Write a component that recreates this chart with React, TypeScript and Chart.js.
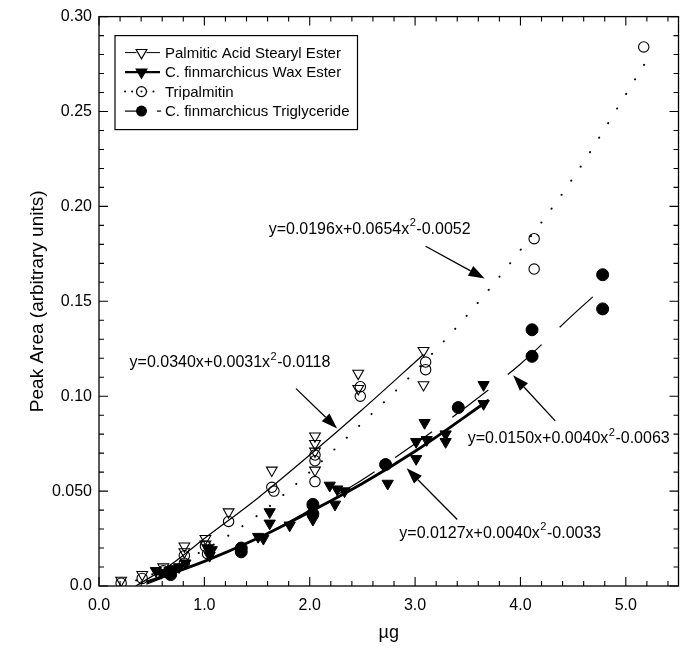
import React, { useEffect, useRef } from 'react';
import { Chart, registerables } from 'chart.js';

Chart.register(...registerables);

// ---------- axes ----------
const X_MIN = 0;
const X_MAX = 5.5;
const Y_MIN = 0;
const Y_MAX = 0.3;
const X_MINOR_STEP = 0.2;
const Y_MINOR_STEP = 0.01;
const xTickValues = [0, 1, 2, 3, 4, 5];
const xTickLabels = ['0.0', '1.0', '2.0', '3.0', '4.0', '5.0'];
const yTickValues = [0, 0.05, 0.1, 0.15, 0.2, 0.25, 0.3];
const yTickLabels = ['0.0', '0.050', '0.10', '0.15', '0.20', '0.25', '0.30'];
const xTitle = 'µg';
const yTitle = 'Peak Area (arbitrary units)';

// ---------- series (x = µg, y = peak area) ----------
const palmiticEster: [number, number][] = [
  [0.21, 0.003], [0.41, 0.006], [0.61, 0.010], [0.81, 0.021], [0.81, 0.018],
  [1.01, 0.025], [1.01, 0.022], [1.23, 0.039], [1.64, 0.061],
  [2.05, 0.079], [2.05, 0.075], [2.05, 0.071], [2.05, 0.061],
  [2.46, 0.112], [2.46, 0.104], [3.08, 0.124], [3.08, 0.106],
];
const waxEster: [number, number][] = [
  [0.54, 0.008], [0.59, 0.007], [0.67, 0.008], [0.71, 0.009], [0.76, 0.010], [0.82, 0.012],
  [1.03, 0.020], [1.07, 0.019], [1.05, 0.016],
  [1.51, 0.026], [1.56, 0.025], [1.62, 0.039], [1.62, 0.033], [1.81, 0.032],
  [2.03, 0.040], [2.03, 0.035], [2.19, 0.053], [2.26, 0.051], [2.33, 0.050], [2.24, 0.043],
  [2.74, 0.054], [3.01, 0.067], [3.01, 0.076], [3.09, 0.086], [3.11, 0.077],
  [3.29, 0.080], [3.29, 0.076], [3.65, 0.106], [3.65, 0.096],
];
const tripalmitin: [number, number][] = [
  [0.21, 0.0015], [0.41, 0.004], [0.61, 0.008], [0.81, 0.016], [0.81, 0.012],
  [1.01, 0.021], [1.03, 0.017], [1.23, 0.034], [1.64, 0.052], [1.66, 0.050],
  [2.05, 0.069], [2.05, 0.066], [2.05, 0.055], [2.48, 0.105], [2.48, 0.100],
  [3.10, 0.118], [3.10, 0.114], [4.13, 0.183], [4.13, 0.167], [5.17, 0.284],
];
const triglyceride: [number, number][] = [
  [0.68, 0.006], [1.35, 0.020], [1.35, 0.018], [2.03, 0.043], [2.03, 0.038],
  [2.72, 0.064], [3.41, 0.094], [4.11, 0.135], [4.11, 0.121], [4.78, 0.164], [4.78, 0.146],
];

// fitted curves
const palmiticFit: [number, number][] = [
  [0.35, 0.0], [0.7, 0.012], [1.0, 0.025], [1.5, 0.046], [2.0, 0.069], [2.5, 0.093], [3.08, 0.122],
];
const waxFit: [number, number][] = [
  [0.45, 0.002], [1.0, 0.013], [1.5, 0.025], [2.0, 0.039], [2.5, 0.054], [3.0, 0.071], [3.7, 0.098],
];
const tripalmitinFit: [number, number][] = [
  [0.2, 0.0], [0.5, 0.006], [1.0, 0.019], [1.5, 0.037], [2.0, 0.060], [2.5, 0.086],
  [3.0, 0.113], [3.5, 0.143], [4.0, 0.177], [4.5, 0.215], [5.2, 0.277],
];
const triglycerideFit: [number, number][] = [
  [0.45, 0.001], [1.0, 0.013], [1.5, 0.025], [2.0, 0.040], [2.5, 0.056], [3.0, 0.075],
  [3.5, 0.095], [4.0, 0.117], [4.5, 0.143], [4.8, 0.158],
];

const seriesNames = [
  'Palmitic Acid Stearyl Ester',
  'C. finmarchicus Wax Ester',
  'Tripalmitin',
  'C. finmarchicus Triglyceride',
];

// equation labels: [base, superscript, tail], anchor (data units)
const equationTexts: [string, string, string][] = [
  ['y=0.0196x+0.0654x', '2', '-0.0052'],
  ['y=0.0340x+0.0031x', '2', '-0.0118'],
  ['y=0.0150x+0.0040x', '2', '-0.0063'],
  ['y=0.0127x+0.0040x', '2', '-0.0033'],
];
const equationAnchors: [number, number][] = [
  [1.61, 0.188], [0.29, 0.1175], [3.5, 0.0776], [2.85, 0.0278],
];
// arrows in data units
const arrowTails: [number, number][] = [[3.10, 0.179], [1.87, 0.104], [4.33, 0.087], [3.40, 0.035]];
const arrowHeads: [number, number][] = [[3.66, 0.162], [2.26, 0.083], [3.93, 0.111], [2.92, 0.062]];

const FONT = '"Liberation Sans", Arial, Helvetica, sans-serif';
const EQ_SIZE = 16;
const LEGEND_SIZE = 15;

const toXY = (arr: [number, number][]) => arr.map(([x, y]) => ({ x, y }));

function drawMarker(ctx: CanvasRenderingContext2D, kind: string, x: number, y: number) {
  ctx.save();
  ctx.strokeStyle = '#000';
  ctx.fillStyle = '#000';
  ctx.lineWidth = 1.2;
  if (kind === 'openTri' || kind === 'filledTri') {
    const r = 6.2;
    ctx.beginPath();
    ctx.moveTo(x - r * 0.866, y - r * 0.5);
    ctx.lineTo(x + r * 0.866, y - r * 0.5);
    ctx.lineTo(x, y + r);
    ctx.closePath();
    if (kind === 'filledTri') ctx.fill();
    ctx.stroke();
  } else if (kind === 'openCircle') {
    ctx.beginPath();
    ctx.arc(x, y, 5, 0, Math.PI * 2);
    ctx.stroke();
    ctx.beginPath();
    ctx.arc(x, y, 1, 0, Math.PI * 2);
    ctx.fill();
  } else {
    ctx.beginPath();
    ctx.arc(x, y, 5.5, 0, Math.PI * 2);
    ctx.fill();
  }
  ctx.restore();
}

const frameTicksPlugin = {
  id: 'frameTicks',
  afterDraw(chart: any) {
    const { ctx, chartArea: a } = chart;
    const xs = chart.scales.x;
    const ys = chart.scales.y;
    ctx.save();
    ctx.strokeStyle = '#000';
    ctx.lineWidth = 1.3;
    ctx.strokeRect(a.left, a.top, a.right - a.left, a.bottom - a.top);
    ctx.lineWidth = 1.1;
    ctx.beginPath();
    const nx = Math.round((X_MAX - X_MIN) / X_MINOR_STEP);
    for (let i = 0; i <= nx; i++) {
      const v = X_MIN + i * X_MINOR_STEP;
      const major = Math.abs(v - Math.round(v)) < 1e-6;
      const px = xs.getPixelForValue(v);
      const len = major ? 9 : 5;
      ctx.moveTo(px, a.bottom);
      ctx.lineTo(px, a.bottom - len);
      ctx.moveTo(px, a.top);
      ctx.lineTo(px, a.top + len);
    }
    const ny = Math.round((Y_MAX - Y_MIN) / Y_MINOR_STEP);
    for (let i = 0; i <= ny; i++) {
      const v = Y_MIN + i * Y_MINOR_STEP;
      const major = i % 5 === 0;
      const py = ys.getPixelForValue(v);
      const len = major ? 9 : 5;
      ctx.moveTo(a.left, py);
      ctx.lineTo(a.left + len, py);
      ctx.moveTo(a.right, py);
      ctx.lineTo(a.right - len, py);
    }
    ctx.stroke();
    ctx.restore();
  },
};

const annotationPlugin = {
  id: 'equations',
  afterDraw(chart: any) {
    const { ctx } = chart;
    const xs = chart.scales.x;
    const ys = chart.scales.y;
    ctx.save();
    arrowTails.forEach((t, i) => {
      const h = arrowHeads[i];
      const x1 = xs.getPixelForValue(t[0]);
      const y1 = ys.getPixelForValue(t[1]);
      const x2 = xs.getPixelForValue(h[0]);
      const y2 = ys.getPixelForValue(h[1]);
      const ang = Math.atan2(y2 - y1, x2 - x1);
      const hl = 16;
      const hw = 5.5;
      const bx = x2 - hl * Math.cos(ang);
      const by = y2 - hl * Math.sin(ang);
      ctx.strokeStyle = '#000';
      ctx.lineWidth = 1.3;
      ctx.beginPath();
      ctx.moveTo(x1, y1);
      ctx.lineTo(bx, by);
      ctx.stroke();
      ctx.fillStyle = '#000';
      ctx.beginPath();
      ctx.moveTo(x2, y2);
      ctx.lineTo(bx + hw * Math.sin(ang), by - hw * Math.cos(ang));
      ctx.lineTo(bx - hw * Math.sin(ang), by + hw * Math.cos(ang));
      ctx.closePath();
      ctx.fill();
    });
    ctx.fillStyle = '#000';
    ctx.textBaseline = 'middle';
    equationTexts.forEach((parts, i) => {
      const [ax, ay] = equationAnchors[i];
      let x = xs.getPixelForValue(ax);
      const y = ys.getPixelForValue(ay);
      ctx.textAlign = 'left';
      ctx.font = `${EQ_SIZE}px ${FONT}`;
      ctx.fillText(parts[0], x, y);
      x += ctx.measureText(parts[0]).width;
      ctx.font = `${Math.round(EQ_SIZE * 0.68)}px ${FONT}`;
      ctx.fillText(parts[1], x + 0.5, y - 6);
      x += ctx.measureText(parts[1]).width + 1;
      ctx.font = `${EQ_SIZE}px ${FONT}`;
      ctx.fillText(parts[2], x, y);
    });
    ctx.restore();
  },
};

const legendPlugin = {
  id: 'boxLegend',
  afterDraw(chart: any) {
    const { ctx, chartArea: a } = chart;
    const left = a.left + 16;
    const top = a.top + 19;
    const rowH = 19.5;
    ctx.save();
    ctx.font = `${LEGEND_SIZE}px ${FONT}`;
    const textX = left + 50;
    const maxW = Math.max(...seriesNames.map((s) => ctx.measureText(s).width));
    const w = textX - left + maxW + 8;
    const h = rowH * 4 + 16;
    ctx.fillStyle = '#fff';
    ctx.fillRect(left, top, w, h);
    ctx.strokeStyle = '#000';
    ctx.lineWidth = 1.2;
    ctx.strokeRect(left, top, w, h);
    const kinds = ['openTri', 'filledTri', 'openCircle', 'filledCircle'];
    kinds.forEach((k, i) => {
      const y = top + 17 + i * rowH;
      const x0 = left + 10;
      const x1 = left + 45;
      const mx = (x0 + x1) / 2 - 1;
      ctx.strokeStyle = '#000';
      ctx.setLineDash([]);
      if (k === 'openTri') {
        ctx.lineWidth = 1;
        ctx.beginPath(); ctx.moveTo(x0, y); ctx.lineTo(x1, y); ctx.stroke();
      } else if (k === 'filledTri') {
        ctx.lineWidth = 2.4;
        ctx.beginPath(); ctx.moveTo(x0, y); ctx.lineTo(x1, y); ctx.stroke();
      } else if (k === 'openCircle') {
        ctx.lineWidth = 2;
        ctx.lineCap = 'round';
        ctx.setLineDash([0.1, 7]);
        ctx.beginPath(); ctx.moveTo(x0, y); ctx.lineTo(x1, y); ctx.stroke();
        ctx.setLineDash([]);
        ctx.lineCap = 'butt';
      } else {
        ctx.lineWidth = 1.2;
        ctx.beginPath(); ctx.moveTo(x0, y); ctx.lineTo(mx, y); ctx.stroke();
        ctx.beginPath(); ctx.moveTo(x1 - 3, y); ctx.lineTo(x1 + 1, y); ctx.stroke();
      }
      if (k === 'openCircle' || k === 'openTri') {
        ctx.fillStyle = '#fff';
        ctx.beginPath(); ctx.arc(mx, y, 5, 0, Math.PI * 2); ctx.fill();
      }
      drawMarker(ctx, k, mx, y);
      ctx.fillStyle = '#000';
      ctx.textBaseline = 'middle';
      ctx.textAlign = 'left';
      ctx.font = `${LEGEND_SIZE}px ${FONT}`;
      ctx.fillText(seriesNames[i], textX, y + 1);
    });
    ctx.restore();
  },
};

export default function App() {
  const canvasRef = useRef<HTMLCanvasElement | null>(null);

  useEffect(() => {
    if (!canvasRef.current) return;
    const tickFont = { family: FONT, size: 16 };
    const chart = new Chart(canvasRef.current, {
      type: 'scatter',
      data: {
        datasets: [
          {
            label: seriesNames[0], data: toXY(palmiticEster), pointStyle: 'triangle',
            pointRotation: 180, pointRadius: 6.2, borderColor: '#000', borderWidth: 1.1,
            backgroundColor: 'rgba(255,255,255,0)', showLine: false,
          } as any,
          {
            label: seriesNames[1], data: toXY(waxEster), pointStyle: 'triangle',
            pointRotation: 180, pointRadius: 6.5, borderColor: '#000', borderWidth: 1,
            backgroundColor: '#000', showLine: false,
          } as any,
          {
            label: seriesNames[2], data: toXY(tripalmitin), pointStyle: 'circle',
            pointRadius: 5.2, borderColor: '#000', borderWidth: 1.1,
            backgroundColor: 'rgba(255,255,255,0)', showLine: false,
          } as any,
          {
            label: seriesNames[3], data: toXY(triglyceride), pointStyle: 'circle',
            pointRadius: 6, borderColor: '#000', borderWidth: 1,
            backgroundColor: '#000', showLine: false,
          } as any,
          {
            type: 'line', label: 'fit1', data: toXY(palmiticFit), borderColor: '#000',
            borderWidth: 1.2, pointRadius: 0, showLine: true, cubicInterpolationMode: 'monotone', fill: false,
          } as any,
          {
            type: 'line', label: 'fit2', data: toXY(waxFit), borderColor: '#000',
            borderWidth: 2.8, pointRadius: 0, showLine: true, cubicInterpolationMode: 'monotone', fill: false,
          } as any,
          {
            type: 'line', label: 'fit3', data: toXY(tripalmitinFit), borderColor: '#000',
            borderWidth: 2, borderDash: [0.1, 17], borderCapStyle: 'round', pointRadius: 0,
            showLine: true, cubicInterpolationMode: 'monotone', fill: false,
          } as any,
          {
            type: 'line', label: 'fit4', data: toXY(triglycerideFit), borderColor: '#000',
            borderWidth: 1.2, borderDash: [45, 25], pointRadius: 0, showLine: true,
            cubicInterpolationMode: 'monotone', fill: false,
          } as any,
        ],
      },
      options: {
        responsive: false,
        animation: false,
        devicePixelRatio: 1,
        layout: { padding: { top: 14, right: 1, left: 0, bottom: 0 } },
        plugins: { legend: { display: false }, tooltip: { enabled: false } },
        scales: {
          x: {
            type: 'linear', min: X_MIN, max: X_MAX,
            grid: { display: false, drawTicks: false },
            border: { display: false },
            afterBuildTicks: (s: any) => { s.ticks = xTickValues.map((v) => ({ value: v })); },
            afterFit: (s: any) => { s.height = 79; },
            ticks: {
              callback: (_v: any, i: number) => xTickLabels[i],
              padding: 10, color: '#000', font: tickFont, maxRotation: 0, autoSkip: false,
            },
            title: {
              display: true, text: xTitle, color: '#000',
              font: { family: FONT, size: 18 }, padding: { top: 0, bottom: 21 },
            },
          },
          y: {
            type: 'linear', min: Y_MIN, max: Y_MAX,
            grid: { display: false, drawTicks: false },
            border: { display: false },
            afterBuildTicks: (s: any) => { s.ticks = yTickValues.map((v) => ({ value: v })); },
            afterFit: (s: any) => { s.width = 99; },
            ticks: {
              callback: (_v: any, i: number) => yTickLabels[i],
              padding: 7, color: '#000', font: tickFont, autoSkip: false,
            },
            title: {
              display: true, text: yTitle, color: '#000',
              font: { family: FONT, size: 19 }, padding: { top: 26, bottom: 0 },
            },
          },
        },
      },
      plugins: [frameTicksPlugin, annotationPlugin, legendPlugin],
    });
    return () => chart.destroy();
  }, []);

  return (
    <div style={{ position: 'absolute', left: 0, top: 0, width: 686, height: 665, background: '#fff' }}>
      <canvas ref={canvasRef} width={686} height={665} />
    </div>
  );
}
